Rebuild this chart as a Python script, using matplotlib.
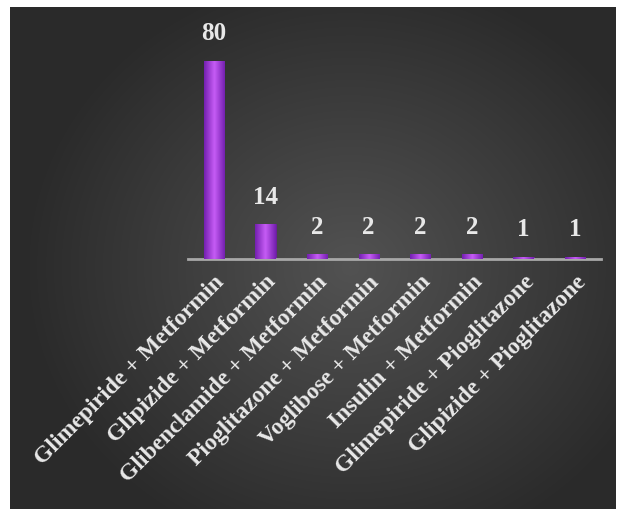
import numpy as np
import matplotlib
matplotlib.use('Agg')
import matplotlib.pyplot as plt
from matplotlib.colors import LinearSegmentedColormap

combos = ['Glimepiride + Metformin', 'Glipizide + Metformin', 'Glibenclamide + Metformin',
          'Pioglitazone + Metformin', 'Voglibose + Metformin', 'Insulin + Metformin',
          'Glimepiride + Pioglitazone', 'Glipizide + Pioglitazone']
counts = [80, 14, 2, 2, 2, 2, 1, 1]

textColor = '#e8e8e8'
serif = ['Liberation Serif', 'DejaVu Serif']

fig = plt.figure(figsize=(6.17, 5.09), dpi=100)
fig.patch.set_facecolor('white')

# dark panel with a soft radial glow
bg = fig.add_axes([10 / 617, 0, 606 / 617, 502 / 509])
yy, xx = np.mgrid[0:502, 0:606]
dist = np.sqrt(((xx - 340) / 330.0) ** 2 + ((yy - 260) / 300.0) ** 2)
shade = np.clip(1 - dist, 0, 1)
bgCmap = LinearSegmentedColormap.from_list('bg', ['#2a2a2a', '#525252'])
bg.imshow(shade, cmap=bgCmap, aspect='auto', vmin=0, vmax=1, interpolation='bilinear')
bg.set_axis_off()

ax = fig.add_axes([188 / 617, 250 / 509, 413 / 617, 223 / 509])
ax.set_facecolor('none')
x = np.arange(len(combos))
bars = ax.bar(x, counts, width=0.39, color='#a23ee6', edgecolor='#6a1a9a', linewidth=0.6, zorder=2)

# horizontal shading on each bar
barCmap = LinearSegmentedColormap.from_list('bar', ['#7420b0', '#c65cf5', '#7420b0'])
grad = np.linspace(0, 1, 64).reshape(1, -1)
for b, v in zip(bars, counts):
    x0, w = b.get_x(), b.get_width()
    im = ax.imshow(grad, cmap=barCmap, extent=[x0, x0 + w, 0, v], aspect='auto', zorder=3)
    im.set_clip_path(b)
    ax.annotate(str(v), (x0 + w / 2, v), xytext=(0, 11), textcoords='offset points',
                ha='center', va='bottom', color=textColor, fontsize=18,
                fontweight='bold', family=serif)

ax.set_xlim(-0.5, len(combos) - 0.5)
ax.set_ylim(0, 90)
ax.set_yticks([])
ax.set_xticks(x)
ax.set_xticklabels(combos, rotation=45, ha='right', va='top', rotation_mode='anchor',
                   color=textColor, fontsize=17, fontweight='bold', family=serif)
ax.tick_params(axis='x', length=0, pad=9)
for side in ['top', 'right', 'left']:
    ax.spines[side].set_visible(False)
ax.spines['bottom'].set_color('#a8a8a8')
ax.spines['bottom'].set_linewidth(2)

fig.savefig('out.png', dpi=100, facecolor='white')
